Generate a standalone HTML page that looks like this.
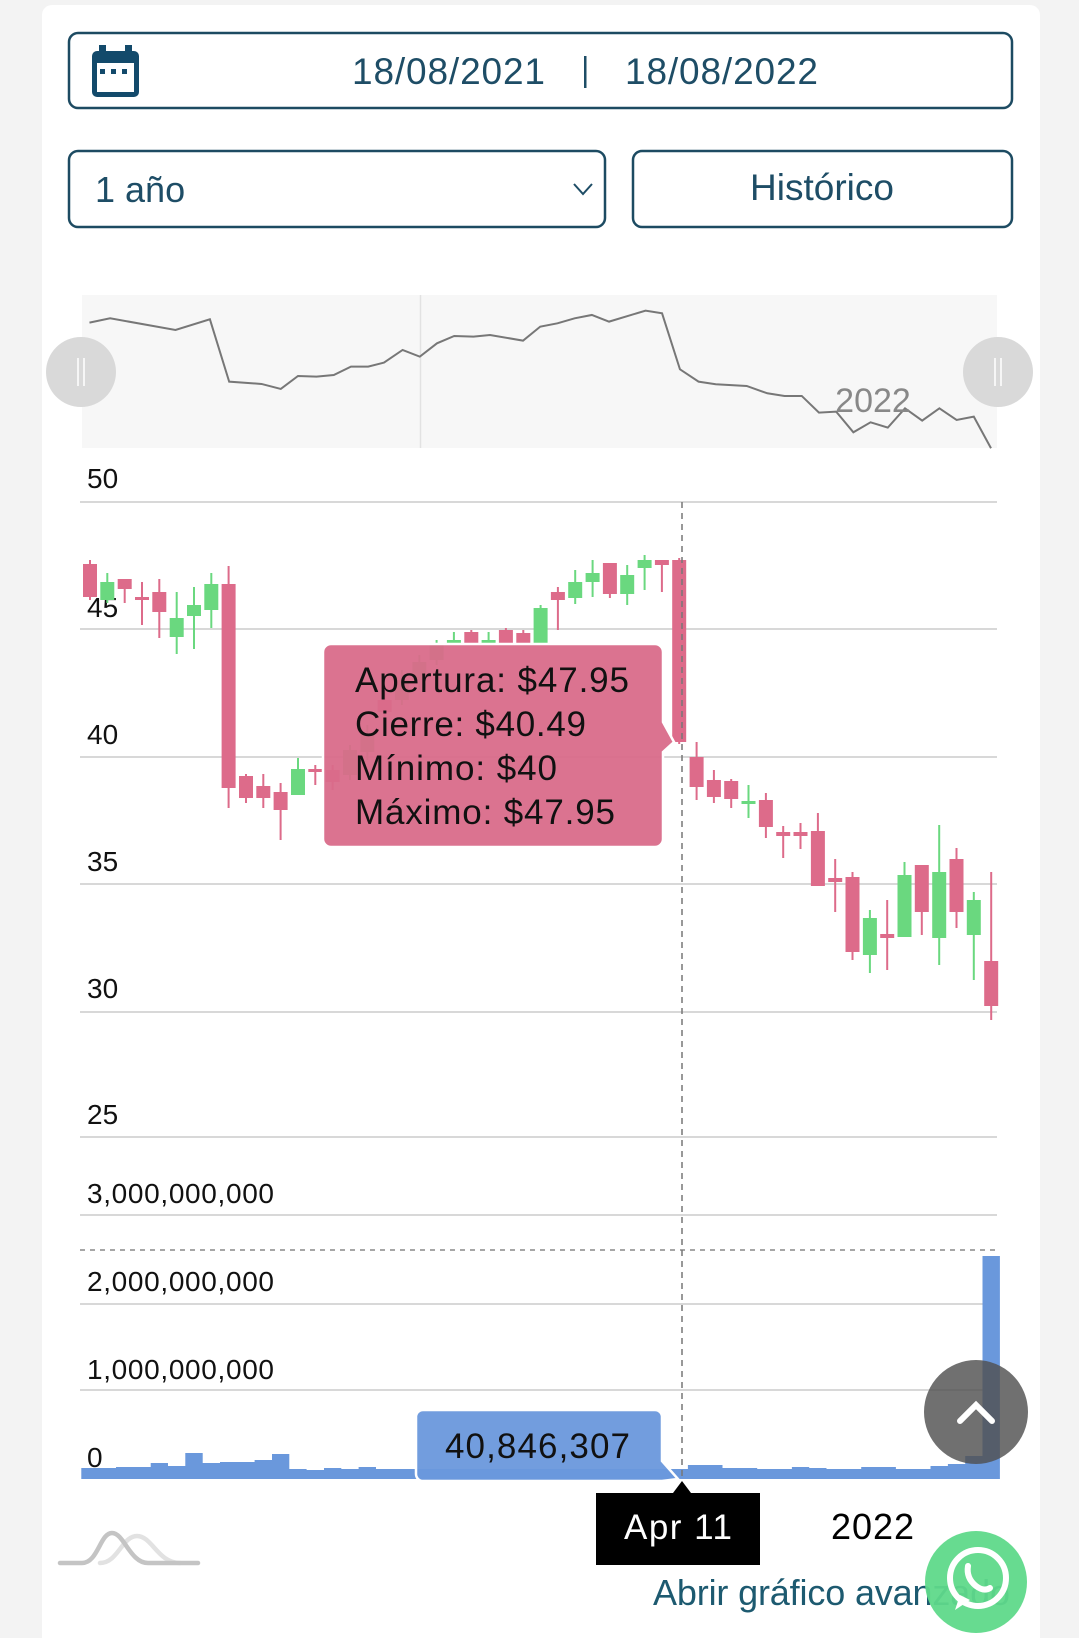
<!DOCTYPE html>
<html><head><meta charset="utf-8"><style>
html,body{margin:0;padding:0;background:#f3f3f3;}
svg{display:block;font-family:"Liberation Sans",sans-serif;}
</style></head><body>
<svg width="1079" height="1638" viewBox="0 0 1079 1638" xmlns="http://www.w3.org/2000/svg">
<rect x="0" y="0" width="1079" height="1638" fill="#f3f3f3"/>
<rect x="42" y="5" width="998" height="1700" rx="10" fill="#ffffff"/>

<rect x="69" y="33" width="943" height="75" rx="9" fill="#fff" stroke="#1d4b62" stroke-width="2.5"/>
<rect x="92" y="51" width="47" height="46" rx="5" fill="#134a6b"/>
<rect x="99" y="45" width="7" height="10" fill="#134a6b"/>
<rect x="125" y="45" width="7" height="10" fill="#134a6b"/>
<rect x="97" y="63" width="37" height="29" fill="#fff"/>
<rect x="100" y="69" width="5" height="5" fill="#134a6b"/>
<rect x="111" y="69" width="5" height="5" fill="#134a6b"/>
<rect x="122" y="69" width="5" height="5" fill="#134a6b"/>
<text x="352" y="84" font-size="37" fill="#1e4d66" textLength="193">18/08/2021</text>
<rect x="584" y="56" width="2.5" height="32" fill="#1e4d66"/>
<text x="625" y="84" font-size="37" fill="#1e4d66" textLength="193">18/08/2022</text>

<rect x="69" y="151" width="536" height="76" rx="9" fill="#fff" stroke="#1d4b62" stroke-width="2.5"/>
<text x="95" y="202" font-size="36" fill="#1e4d66">1 año</text>
<polyline points="574,184 583,194 592,184" fill="none" stroke="#1e4d66" stroke-width="2"/>
<rect x="633" y="151" width="379" height="76" rx="9" fill="#fff" stroke="#1d4b62" stroke-width="2.5"/>
<text x="822" y="200" font-size="37" fill="#1e4d66" text-anchor="middle">Histórico</text>

<rect x="82" y="295" width="915" height="153" fill="#f7f7f7"/>
<line x1="420.5" y1="295" x2="420.5" y2="448" stroke="#e2e2e2" stroke-width="1.5"/>
<g transform="scale(0.6882,0.3333)">
<polyline vector-effect="non-scaling-stroke" fill="none" stroke="#777" stroke-width="2" points="130,968 160,955 255,990 305,958 333,1145 380,1152 408,1167 433,1128 460,1130 485,1125 510,1100 535,1100 558,1088 585,1050 610,1070 635,1030 660,1008 688,1010 712,1005 760,1022 785,980 810,970 835,955 860,945 885,965 938,932 962,940 988,1108 1015,1145 1040,1153 1085,1158 1115,1180 1140,1188 1165,1188 1190,1238 1215,1235 1240,1297 1265,1267 1290,1283 1315,1225 1340,1262 1365,1225 1390,1260 1415,1250 1440,1345"/>
</g>
<text x="873" y="412" font-size="34" fill="#888" text-anchor="middle">2022</text>
<circle cx="81" cy="372" r="35" fill="#d9d9d9"/>
<line x1="78" y1="358" x2="78" y2="386" stroke="#fff" stroke-width="1.5"/>
<line x1="84" y1="358" x2="84" y2="386" stroke="#fff" stroke-width="1.5"/>
<circle cx="998" cy="372" r="35" fill="#d9d9d9"/>
<line x1="995" y1="358" x2="995" y2="386" stroke="#fff" stroke-width="1.5"/>
<line x1="1001" y1="358" x2="1001" y2="386" stroke="#fff" stroke-width="1.5"/>

<g stroke="#d8d8d8" stroke-width="2">
<line x1="80" y1="502" x2="997" y2="502"/>
<line x1="80" y1="629" x2="997" y2="629"/>
<line x1="80" y1="757" x2="997" y2="757"/>
<line x1="80" y1="884" x2="997" y2="884"/>
<line x1="80" y1="1012" x2="997" y2="1012"/>
<line x1="80" y1="1137" x2="997" y2="1137"/>
<line x1="80" y1="1215" x2="997" y2="1215"/>
<line x1="80" y1="1304" x2="997" y2="1304"/>
<line x1="80" y1="1390" x2="997" y2="1390"/>
</g>
<line x1="80" y1="1250" x2="997" y2="1250" stroke="#888" stroke-width="1.5" stroke-dasharray="5,5"/>
<g font-size="28" fill="#111">
<text x="87" y="488">50</text>
<text x="87" y="617">45</text>
<text x="87" y="744">40</text>
<text x="87" y="871">35</text>
<text x="87" y="998">30</text>
<text x="87" y="1124">25</text>
<text x="87" y="1203" textLength="187">3,000,000,000</text>
<text x="87" y="1291" textLength="187">2,000,000,000</text>
<text x="87" y="1379" textLength="187">1,000,000,000</text>
<text x="87" y="1467">0</text>
</g>

<g fill="#dd6b8a">
<rect x="89" y="560" width="2" height="40"/><rect x="83" y="564" width="14" height="33"/>
<rect x="123.7" y="579" width="2" height="24"/><rect x="117.7" y="579" width="14" height="10"/>
<rect x="141" y="582" width="2" height="43"/><rect x="135" y="597" width="14" height="3"/>
<rect x="158.3" y="579" width="2" height="59"/><rect x="152.3" y="592" width="14" height="20"/>
<rect x="227.6" y="566" width="2" height="242"/><rect x="221.6" y="584" width="14" height="204"/>
<rect x="245" y="774" width="2" height="29"/><rect x="239" y="776" width="14" height="22"/>
<rect x="262.3" y="774" width="2" height="34"/><rect x="256.3" y="786" width="14" height="12"/>
<rect x="279.6" y="783" width="2" height="57"/><rect x="273.6" y="792" width="14" height="18"/>
<rect x="314.3" y="765" width="2" height="20"/><rect x="308.3" y="769" width="14" height="3"/>
<rect x="331.6" y="765" width="2" height="25"/><rect x="325.6" y="770" width="14" height="12"/>
<rect x="383.6" y="690" width="2" height="30"/><rect x="377.6" y="700" width="14" height="12"/>
<rect x="470.3" y="630" width="2" height="15"/><rect x="464.3" y="632" width="14" height="11"/>
<rect x="504.9" y="628" width="2" height="17"/><rect x="498.9" y="630" width="14" height="13"/>
<rect x="522.3" y="630" width="2" height="15"/><rect x="516.3" y="633" width="14" height="10"/>
<rect x="556.9" y="587" width="2" height="43"/><rect x="550.9" y="592" width="14" height="8"/>
<rect x="608.9" y="563" width="2" height="35"/><rect x="602.9" y="563" width="14" height="31"/>
<rect x="660.9" y="560" width="2" height="32"/><rect x="654.9" y="560" width="14" height="5"/>
<rect x="678.2" y="558" width="2" height="186"/><rect x="672.2" y="560" width="14" height="182"/>
<rect x="695.6" y="742" width="2" height="58"/><rect x="689.6" y="757" width="14" height="30"/>
<rect x="712.9" y="770" width="2" height="33"/><rect x="706.9" y="780" width="14" height="17"/>
<rect x="730.2" y="779" width="2" height="29"/><rect x="724.2" y="781" width="14" height="18"/>
<rect x="764.9" y="793" width="2" height="45"/><rect x="758.9" y="800" width="14" height="27"/>
<rect x="782.2" y="826" width="2" height="32"/><rect x="776.2" y="832" width="14" height="4"/>
<rect x="799.5" y="823" width="2" height="26"/><rect x="793.5" y="832" width="14" height="4"/>
<rect x="816.9" y="813" width="2" height="73"/><rect x="810.9" y="831" width="14" height="55"/>
<rect x="834.2" y="859" width="2" height="53"/><rect x="828.2" y="878" width="14" height="4"/>
<rect x="851.5" y="872" width="2" height="88"/><rect x="845.5" y="877" width="14" height="75"/>
<rect x="886.2" y="900" width="2" height="70"/><rect x="880.2" y="934" width="14" height="4"/>
<rect x="920.8" y="865" width="2" height="70"/><rect x="914.8" y="865" width="14" height="47"/>
<rect x="955.5" y="848" width="2" height="80"/><rect x="949.5" y="859" width="14" height="53"/>
<rect x="990.2" y="872" width="2" height="148"/><rect x="984.2" y="961" width="14" height="45"/>
</g>
<g fill="#6ad87f">
<rect x="106.3" y="573" width="2" height="30"/><rect x="100.3" y="582" width="14" height="18"/>
<rect x="175.7" y="592" width="2" height="62"/><rect x="169.7" y="618" width="14" height="19"/>
<rect x="193" y="587" width="2" height="62"/><rect x="187" y="605" width="14" height="11"/>
<rect x="210.3" y="573" width="2" height="55"/><rect x="204.3" y="584" width="14" height="26"/>
<rect x="297" y="758" width="2" height="37"/><rect x="291" y="769" width="14" height="26"/>
<rect x="349" y="745" width="2" height="35"/><rect x="343" y="750" width="14" height="25"/>
<rect x="366.3" y="725" width="2" height="35"/><rect x="360.3" y="735" width="14" height="17"/>
<rect x="400.9" y="670" width="2" height="35"/><rect x="394.9" y="680" width="14" height="20"/>
<rect x="418.3" y="655" width="2" height="35"/><rect x="412.3" y="662" width="14" height="18"/>
<rect x="435.6" y="640" width="2" height="25"/><rect x="429.6" y="645" width="14" height="15"/>
<rect x="452.9" y="632" width="2" height="13"/><rect x="446.9" y="640" width="14" height="3"/>
<rect x="487.6" y="632" width="2" height="13"/><rect x="481.6" y="640" width="14" height="3"/>
<rect x="539.6" y="605" width="2" height="40"/><rect x="533.6" y="608" width="14" height="35"/>
<rect x="574.2" y="570" width="2" height="34"/><rect x="568.2" y="582" width="14" height="16"/>
<rect x="591.6" y="560" width="2" height="37"/><rect x="585.6" y="573" width="14" height="9"/>
<rect x="626.2" y="565" width="2" height="40"/><rect x="620.2" y="575" width="14" height="19"/>
<rect x="643.6" y="555" width="2" height="35"/><rect x="637.6" y="560" width="14" height="8"/>
<rect x="747.5" y="785" width="2" height="33"/><rect x="741.5" y="801" width="14" height="3"/>
<rect x="868.9" y="910" width="2" height="63"/><rect x="862.9" y="918" width="14" height="37"/>
<rect x="903.5" y="862" width="2" height="75"/><rect x="897.5" y="875" width="14" height="62"/>
<rect x="938.2" y="825" width="2" height="140"/><rect x="932.2" y="872" width="14" height="66"/>
<rect x="972.8" y="892" width="2" height="88"/><rect x="966.8" y="900" width="14" height="35"/>
</g>

<polygon fill="#6a98dc" points="81.3,1479 81.3,1468 116,1468 116,1467 150.7,1467 150.7,1463 168,1463 168,1466 185.3,1466 185.3,1453 202.7,1453 202.7,1463 220,1463 220,1462 254.6,1462 254.6,1460 272,1460 272,1454 289.3,1454 289.3,1469 306.6,1469 306.6,1470 324,1470 324,1468 341.3,1468 341.3,1469 358.6,1469 358.6,1467 376,1467 376,1469 687.9,1469 687.9,1465 722.5,1465 722.5,1468 757.2,1468 757.2,1469 791.9,1469 791.9,1467 809.2,1467 809.2,1468 826.5,1468 826.5,1469 861.2,1469 861.2,1467 895.9,1467 895.9,1469 930.5,1469 930.5,1466 947.9,1466 947.9,1464 965.2,1464 965.2,1456 982.5,1456 982.5,1256 999.9,1256 999.9,1479"/>

<line x1="682" y1="502" x2="682" y2="1479" stroke="#777" stroke-width="1.5" stroke-dasharray="6,5"/>

<path d="M331,644 H655 a8,8 0 0 1 8,8 V722 L674,742 L663,752 V839 a8,8 0 0 1 -8,8 H331 a8,8 0 0 1 -8,-8 V652 a8,8 0 0 1 8,-8 Z" fill="#d96b8a" fill-opacity="0.95" stroke="#fff" stroke-width="2.5"/>
<g font-size="35" fill="#111">
<text x="355" y="692" textLength="274">Apertura: $47.95</text>
<text x="355" y="736" textLength="231">Cierre: $40.49</text>
<text x="355" y="780" textLength="202">Mínimo: $40</text>
<text x="355" y="824" textLength="260">Máximo: $47.95</text>
</g>

<path d="M423,1410 H655 a7,7 0 0 1 7,7 V1461 L678,1479 L662,1481 H423 a7,7 0 0 1 -7,-7 V1417 a7,7 0 0 1 7,-7 Z" fill="#6a98dc" fill-opacity="0.95" stroke="#fff" stroke-width="2.5"/>
<text x="445" y="1458" font-size="35" fill="#111" textLength="185">40,846,307</text>

<rect x="596" y="1493" width="164" height="72" fill="#000"/>
<path d="M673,1493 L682,1481 L691,1493 Z" fill="#000"/>
<text x="624" y="1539" font-size="35" fill="#fff" textLength="108">Apr 11</text>
<text x="831" y="1539" font-size="36" fill="#000" textLength="83">2022</text>

<g fill="none" stroke-width="4.5" stroke-linecap="round">
<path d="M100,1563 C118,1563 122,1536 137,1536 C152,1536 158,1563 180,1563" stroke="#e2e2e2"/>
<path d="M60,1563 H82 C98,1563 100,1533 112,1533 C124,1533 130,1563 148,1563 H198" stroke="#c4c4c4"/>
</g>

<circle cx="976" cy="1412" r="52" fill="rgba(80,80,80,0.82)"/>
<polyline points="960,1421 976,1405 992,1421" fill="none" stroke="#fff" stroke-width="6" stroke-linecap="round"/>

<text x="653" y="1605" font-size="36" fill="#1d5a70" textLength="357">Abrir gráfico avanzado</text>
<circle cx="976" cy="1582" r="51" fill="#5fd98a" opacity="0.95"/>
<circle cx="978" cy="1578" r="28" fill="none" stroke="#fff" stroke-width="6"/>
<path d="M955,1610 L960,1595 L970,1600 Z" fill="#fff"/>
<path d="M968,1566 q-2,12 8,20 q8,6 14,2" fill="none" stroke="#fff" stroke-width="6" stroke-linecap="round"/>
</svg>
</body></html>
